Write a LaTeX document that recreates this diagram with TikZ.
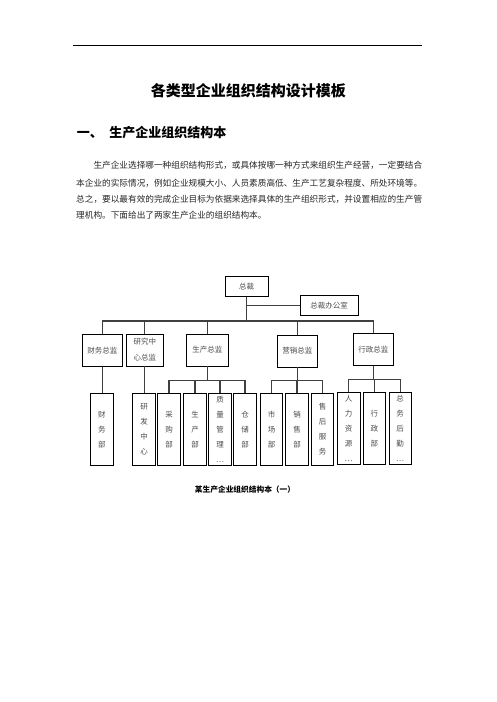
\documentclass[tikz,border=0pt]{standalone}
\usepackage{fontspec}
\setmainfont{Noto Sans CJK SC}
\begin{document}
\begin{tikzpicture}[x=1pt,y=-1pt,
  box/.style={draw=black, line width=0.8pt, inner sep=0pt, font=\fontsize{7.5}{16}\selectfont, text=black!70, align=center},
  vbox/.style={box, minimum width=22.5pt, minimum height=71.5pt, font=\fontsize{7.5}{15}\selectfont},
  conn/.style={draw=black!75, line width=1.1pt},
  txt/.style={inner sep=0pt, anchor=west},
  para/.style={txt, font=\fontsize{8.65}{10}\selectfont, text=black!85}]
\fill[white] (0,0) rectangle (496,702);
\useasboundingbox (0,0) rectangle (496,702);
% header rule
\draw[line width=0.7pt] (73,45) -- (422,45);
% title and text
\node[inner sep=0pt, font=\fontsize{15}{18}\selectfont\bfseries] (title) at (248.3,90.7) {各类型企业组织结构设计模板};
\node[txt, font=\fontsize{13}{15}\selectfont\bfseries] (head) at (76.7,133) {一、\hspace{6.6pt}生产企业组织结构本};
\node[para] (p1) at (93.3,165) {生产企业选择哪一种组织结构形式，或具体按哪一种方式来组织生产经营，一定要结合};
\node[para] (p2) at (76,183) {本企业的实际情况，例如企业规模大小、人员素质高低、生产工艺复杂程度、所处环境等。};
\node[para] (p3) at (76,199.5) {总之，要以最有效的完成企业目标为依据来选择具体的生产组织形式，并设置相应的生产管};
\node[para] (p4) at (76,215.5) {理机构。下面给出了两家生产企业的组织结构本。};
\node[inner sep=0pt, font=\fontsize{7.7}{9}\selectfont\bfseries] (cap) at (245,490) {某生产企业组织结构本（一）};
% level 1
\node[box, minimum width=43pt, minimum height=20pt] (zc) at (246.5,286.7) {总裁};
\node[box, minimum width=58pt, minimum height=19.5pt] (zcb) at (329,305.3) {总裁办公室};
% level 2
\node[box, minimum width=40pt, minimum height=32pt] (cwzj) at (102.3,350.2) {财务总监};
\node[box, minimum width=37pt, minimum height=32pt] (yjzj) at (144.8,350) {研究中\\心总监};
\node[box, minimum width=42pt, minimum height=32pt] (sczj) at (207.3,350) {生产总监};
\node[box, minimum width=40pt, minimum height=32pt] (yxzj) at (297.3,351) {营销总监};
\node[box, minimum width=40pt, minimum height=32pt] (xzzj) at (373.3,349.7) {行政总监};
% level 3
\node[vbox] (cwb) at (101.8,429.2) {财\\务\\部};
\node[vbox] (yfzx) at (144,429.2) {研\\发\\中\\心};
\node[vbox] (cgb) at (169,429.2) {采\\购\\部};
\node[vbox] (scb) at (195,429.2) {生\\产\\部};
\node[vbox] (zlgl) at (220,429.2) {质\\量\\管\\理\\…};
\node[vbox] (ccb) at (245,429.2) {仓\\储\\部};
\node[vbox] (scbu) at (271.5,429.3) {市\\场\\部};
\node[vbox] (xsb) at (297,429.3) {销\\售\\部};
\node[vbox] (shfw) at (322.5,429.3) {售\\后\\服\\务};
\node[vbox] (rlzy) at (348.7,428.3) {人\\力\\资\\源\\…};
\node[vbox] (xzb) at (374.3,428.3) {行\\政\\部};
\node[vbox] (zwhq) at (400.2,428.3) {总\\务\\后\\勤\\…};
% connectors level 1-2
\coordinate (b1) at (248,321);
\draw[conn] (zc.south) -- (zc.south |- b1);
\draw[conn] (zc.south |- zcb.west) -- (zcb.west);
\draw[conn] (cwzj.north) |- (b1) -| (xzzj.north);
\foreach \n in {yjzj,sczj,yxzj} \draw[conn] (\n.north) -- (\n.north |- b1);
% connectors level 2-3
\draw[conn] (cwzj.south) -- (cwzj.south |- cwb.north);
\draw[conn] (yjzj.south) -- (yjzj.south |- yfzx.north);
\coordinate (b2) at (207.3,380.7);
\draw[conn] (sczj.south) -- (b2);
\draw[conn] (cgb.north) |- (b2) -| (ccb.north);
\foreach \n in {scb,zlgl} \draw[conn] (\n.north) -- (\n.north |- b2);
\coordinate (b3) at (297.3,380.7);
\draw[conn] (yxzj.south) -- (b3);
\draw[conn] (scbu.north) |- (b3) -| (shfw.north);
\draw[conn] (xsb.north) -- (xsb.north |- b3);
\coordinate (b4) at (373.3,379.3);
\draw[conn] (xzzj.south) -- (b4);
\draw[conn] (rlzy.north) |- (b4) -| (zwhq.north);
\draw[conn] (xzb.north) -- (xzb.north |- b4);
\end{tikzpicture}
\end{document}
